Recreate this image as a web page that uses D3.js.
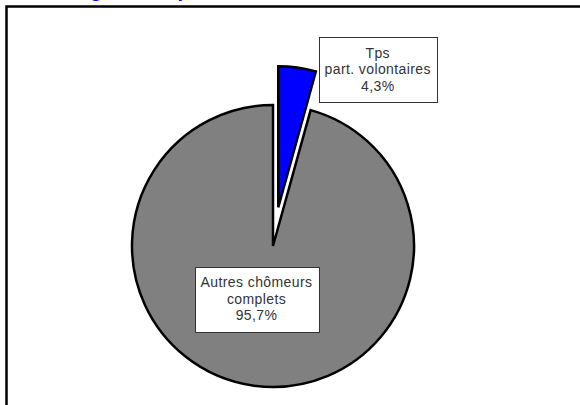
<!DOCTYPE html>
<html>
<head>
<meta charset="utf-8">
<script src="https://cdn.jsdelivr.net/npm/d3@7"></script>
<style>
  html, body { margin: 0; padding: 0; background: #fff; overflow: hidden; }
  #chart { width: 580px; height: 405px; }
</style>
</head>
<body>
<div id="chart"></div>
<script>
const title = 'Chômage et temps de travail';
const categories = [['Tps', 'part. volontaires'], ['Autres chômeurs', 'complets']];
const values = [4.3, 95.7];
const colors = ['#0000ff', '#808080'];

function renderPie(container) {
  const el = d3.select(container);
  el.selectAll('*').remove();

  const width = 580, height = 405;
  const cx = 273, cy = 246, r = 141;
  const explode = [39, 0];
  // label box centre, relative to the slice centroid
  const labelShift = [[90, -68], [-7, -17]];

  const svg = el.append('svg').attr('width', width).attr('height', height);

  // title sits mostly above the visible area, only descenders show
  svg.append('text').attr('x', 22).attr('y', -3)
    .style('font-family', '"Liberation Sans", Arial, sans-serif')
    .style('font-size', '20px').style('font-weight', 'bold')
    .style('fill', '#0000ff').text(title);

  svg.append('rect').attr('x', 6.5).attr('y', 6.5)
    .attr('width', 620).attr('height', 440)
    .attr('fill', 'none').attr('stroke', '#000').attr('stroke-width', 2.5);

  const pie = d3.pie().sort(null).value(d => d)(values);
  const arc = d3.arc().innerRadius(0).outerRadius(r);

  const g = svg.append('g').attr('transform', `translate(${cx},${cy})`);

  const shift = (d, i) => {
    const a = (d.startAngle + d.endAngle) / 2;
    return [Math.sin(a) * explode[i], -Math.cos(a) * explode[i]];
  };

  g.selectAll('.slice').data(pie).enter().append('path')
    .attr('transform', (d, i) => `translate(${shift(d, i)})`)
    .attr('d', arc)
    .attr('fill', (d, i) => colors[i])
    .attr('stroke', '#000').attr('stroke-width', 2.5)
    .attr('stroke-linejoin', 'miter');

  const fmt = v => v.toFixed(1).replace('.', ',') + '%';
  const lineH = 16.5;

  pie.forEach((d, i) => {
    const c = arc.centroid(d);
    const s = shift(d, i);
    const lx = c[0] + s[0] + labelShift[i][0];
    const ly = c[1] + s[1] + labelShift[i][1];
    const lines = categories[i].concat([fmt(values[i])]);

    const lg = g.append('g');
    const rect = lg.append('rect');
    const txt = lg.append('text')
      .attr('text-anchor', 'middle')
      .style('font-family', '"Liberation Sans", Arial, sans-serif')
      .style('font-size', '14px').style('letter-spacing', '0.4px')
      .style('fill', '#333');
    lines.forEach((t, k) => {
      txt.append('tspan').attr('x', lx)
        .attr('y', ly + (k - (lines.length - 1) / 2) * lineH)
        .attr('dy', '0.35em').text(t);
    });
    const bw = d3.max(txt.selectAll('tspan').nodes(), n => n.getComputedTextLength()) + 12;
    const bh = lines.length * lineH + 15;
    rect.attr('x', Math.round(lx - bw / 2) + 0.5).attr('y', Math.round(ly - bh / 2) + 0.5)
      .attr('width', Math.round(bw)).attr('height', Math.round(bh))
      .attr('fill', '#fff').attr('stroke', '#333').attr('stroke-width', 1);
  });
}

renderPie(document.getElementById('chart'));
</script>
</body>
</html>
